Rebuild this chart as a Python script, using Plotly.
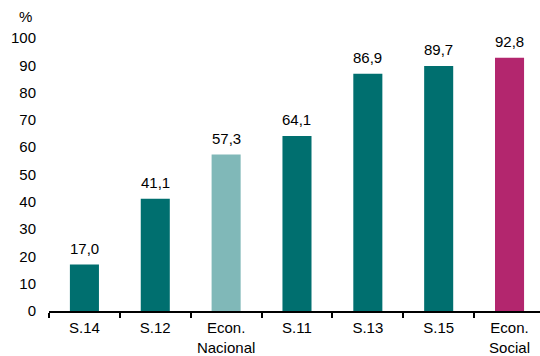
import plotly.graph_objects as go

categories = ["S.14", "S.12", "Econ.<br>Nacional", "S.11", "S.13", "S.15", "Econ.<br>Social"]
values = [17.0, 41.1, 57.3, 64.1, 86.9, 89.7, 92.8]
colors = ["#006f6f", "#006f6f", "#80b8b8", "#006f6f", "#006f6f", "#006f6f", "#b3266e"]
y_ticks = list(range(0, 101, 10))

fig = go.Figure(go.Bar(
    x=categories, y=values,
    marker=dict(color=colors, line=dict(width=0)),
    width=0.41,
    hoverinfo="skip",
))

annotations = [dict(
    x=c, y=v, xref="x", yref="y", text=f"{v:.1f}".replace(".", ","),
    showarrow=False, yanchor="bottom", xanchor="center", yshift=6,
    font=dict(size=15, color="#000"),
) for c, v in zip(categories, values)]

annotations.append(dict(
    text="%", xref="paper", yref="paper", x=-0.03, y=1.0, yshift=22,
    xanchor="right", yanchor="middle", showarrow=False,
    font=dict(size=15),
))

fig.update_layout(
    width=540, height=356,
    margin=dict(l=49, r=0, t=38, b=45),
    plot_bgcolor="white", paper_bgcolor="white",
    font=dict(family="Liberation Sans, Arial", size=15, color="#000"),
    showlegend=False,
    xaxis=dict(
        range=[-0.5, 6.43], automargin=False,
        showline=True, linecolor="#000", linewidth=2,
        ticks="outside", tickson="boundaries", ticklen=5, tickwidth=2, tickcolor="#000",
        showgrid=False, zeroline=False,
        tickfont=dict(size=15), ticklabelstandoff=2,
    ),
    yaxis=dict(
        range=[0, 100], tickvals=y_ticks, automargin=False,
        showgrid=False, zeroline=False, showline=False,
        ticks="", ticklabelstandoff=12,
        tickfont=dict(size=15),
    ),
    annotations=annotations,
)

fig.write_html("out.html", config={"displayModeBar": False},
               post_script="document.body.style.margin='0';")
